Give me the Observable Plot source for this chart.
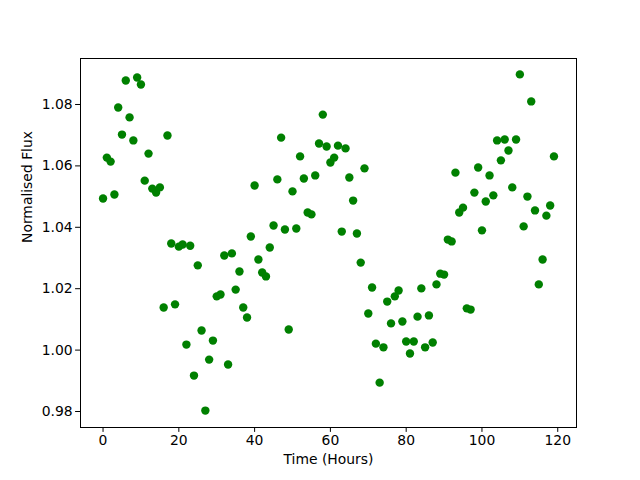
<!DOCTYPE html>
<html>
<head>
<meta charset="utf-8">
<script src="https://cdn.jsdelivr.net/npm/d3@7"></script>
<script src="https://cdn.jsdelivr.net/npm/@observablehq/plot@0.6"></script>
<style>
  html, body { margin: 0; padding: 0; background: #fff; }
</style>
</head>
<body>
<div id="chart"></div>
<script>
const hours = d3.range(0, 120);
const flux = [
  1.0494, 1.0627, 1.0614, 1.0507, 1.0790, 1.0702, 1.0878, 1.0758, 1.0683, 1.0888,
  1.0865, 1.0552, 1.0640, 1.0526, 1.0513, 1.0530, 1.0139, 1.0699, 1.0347, 1.0149,
  1.0337, 1.0344, 1.0018, 1.0340, 0.9917, 1.0276, 1.0064, 0.9803, 0.9969, 1.0031,
  1.0175, 1.0181, 1.0308, 0.9953, 1.0315, 1.0197, 1.0256, 1.0139, 1.0106, 1.0370,
  1.0536, 1.0295, 1.0253, 1.0240, 1.0334, 1.0406, 1.0556, 1.0692, 1.0393, 1.0067,
  1.0517, 1.0396, 1.0631, 1.0559, 1.0448, 1.0442, 1.0569, 1.0673, 1.0767, 1.0663,
  1.0611, 1.0627, 1.0666, 1.0386, 1.0657, 1.0562, 1.0487, 1.0380, 1.0285, 1.0592,
  1.0119, 1.0204, 1.0021, 0.9894, 1.0009, 1.0158, 1.0087, 1.0175, 1.0194, 1.0093,
  1.0028, 0.9989, 1.0028, 1.0109, 1.0201, 1.0009, 1.0113, 1.0025, 1.0214, 1.0249,
  1.0246, 1.0360, 1.0354, 1.0578, 1.0448, 1.0464, 1.0136, 1.0132, 1.0513, 1.0595,
  1.0390, 1.0484, 1.0569, 1.0504, 1.0683, 1.0618, 1.0686, 1.0650, 1.0530, 1.0686,
  1.0898, 1.0403, 1.0500, 1.0810, 1.0455, 1.0214, 1.0295, 1.0438, 1.0471, 1.0631
];
const xTicks = [0, 20, 40, 60, 80, 100, 120];
const yTicks = [0.98, 1.00, 1.02, 1.04, 1.06, 1.08];
const xLabel = "Time (Hours)";
const yLabel = "Normalised Flux";

const data = hours.map((h, i) => ({h, f: flux[i]}));

const chart = Plot.plot({
  width: 640,
  height: 480,
  marginLeft: 80,
  marginRight: 64,
  marginTop: 58,
  marginBottom: 53,
  style: {fontFamily: "DejaVu Sans", fontSize: "13.9px", background: "#fff", color: "#000"},
  x: {domain: [-5.95, 124.95]},
  y: {domain: [0.97479, 1.09498]},
  marks: [
    Plot.dot(data, {x: "h", y: "f", r: 4.2, fill: "#008000", stroke: "none"}),
    Plot.frame({stroke: "#000", strokeWidth: 1}),
    Plot.axisX({ticks: xTicks, tickSize: 4.9, tickPadding: 3, label: null, tickFormat: d => String(d), fontSize: 13.9}),
    Plot.axisY({ticks: yTicks, tickSize: 4.9, tickPadding: 3, label: null, tickFormat: d => d.toFixed(2), fontSize: 13.9}),
    Plot.text([xLabel], {text: d => d, frameAnchor: "bottom", dy: 36, fontSize: 13.9}),
    Plot.text([yLabel], {text: d => d, frameAnchor: "left", dx: -53, rotate: -90, fontSize: 13.9})
  ]
});
document.getElementById("chart").appendChild(chart);
</script>
</body>
</html>
